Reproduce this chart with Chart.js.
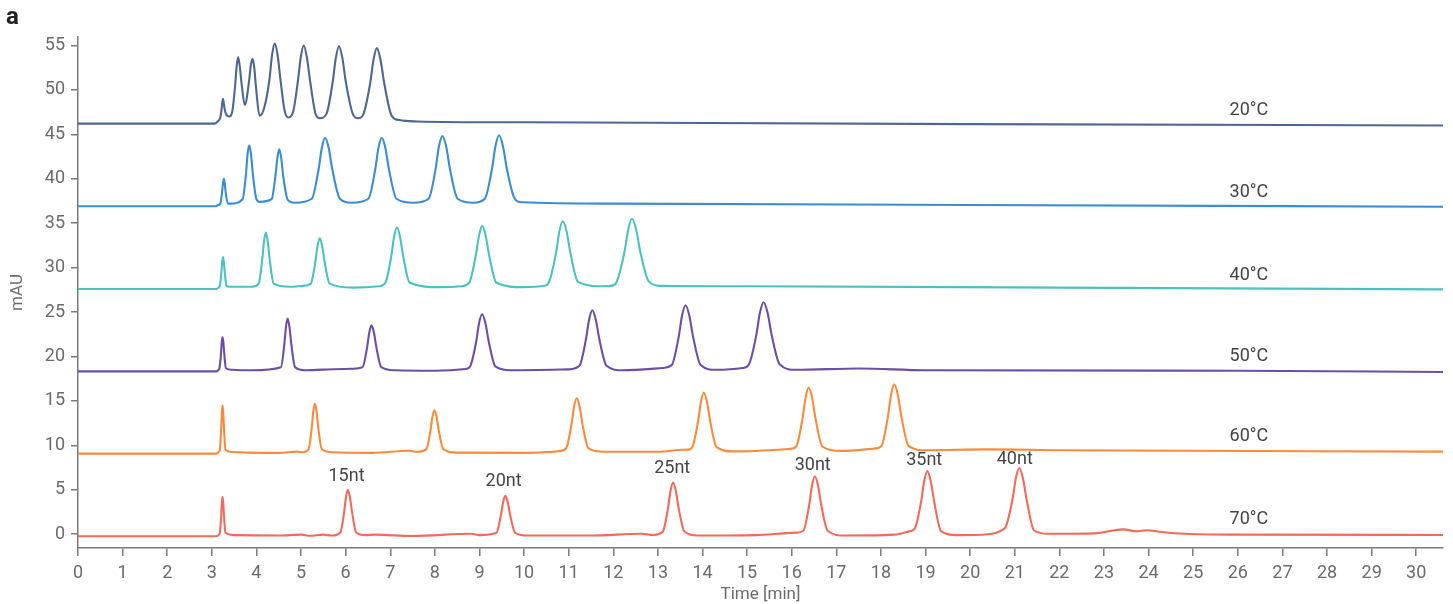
<!DOCTYPE html>
<html><head><meta charset="utf-8">
<script src="https://cdn.jsdelivr.net/npm/chart.js@4.4.0/dist/chart.umd.min.js"></script>
<style>html,body{margin:0;padding:0;background:#fff;}#wrap{width:1453px;height:604px;position:relative;}</style>
</head><body><div id="wrap"><canvas id="c" width="1453" height="604"></canvas></div>
<script>
// ---- tick labels ----
const xTickValues = [0,1,2,3,4,5,6,7,8,9,10,11,12,13,14,15,16,17,18,19,20,21,22,23,24,25,26,27,28,29,30];
const yTickValues = [0,5,10,15,20,25,30,35,40,45,50,55];

// ---- series names / colours ----
const seriesNames = ['20°C','30°C','40°C','50°C','60°C','70°C'];
const seriesColors = ['#4e6792','#3a8dd2','#4cc1c0','#6a4fa8','#fa8b3c','#f26a5b'];

// ---- traces: [time (min), absorbance (mAU)] ----
const trace20 = [[0,46.2],[3.05,46.2],[3.13,46.45],[3.19,46.9],[3.22,47.9],[3.235,48.6],[3.25,49.0],[3.266,48.6],[3.285,47.9],[3.33,47.15],[3.39,47.0],[3.46,47.6],[3.52,50.35],[3.555,52.6],[3.59,53.7],[3.628,52.6],[3.665,50.8],[3.74,48.3],[3.835,51.0],[3.872,52.7],[3.91,53.5],[3.95,52.6],[3.99,50.3],[4.07,47.1],[4.17,47.9],[4.29,51.1],[4.35,53.9],[4.41,55.2],[4.475,53.9],[4.54,51.1],[4.63,47.7],[4.71,46.9],[4.82,47.5],[4.93,51.0],[4.995,53.7],[5.06,55.0],[5.13,53.7],[5.203,51.0],[5.32,47.4],[5.42,46.8],[5.57,47.3],[5.71,50.9],[5.78,53.6],[5.85,54.9],[5.926,53.6],[6.004,50.9],[6.16,47.3],[6.28,46.8],[6.40,47.3],[6.55,50.75],[6.625,53.4],[6.70,54.7],[6.781,53.4],[6.865,50.75],[7.03,47.1],[7.2,46.6],[7.6,46.45],[10,46.35],[20,46.15],[30.6,46.0]];

const trace30 = [[0,36.9],[3.08,36.9],[3.14,37.05],[3.19,37.2],[3.23,38.5],[3.25,39.5],[3.27,40.0],[3.29,39.5],[3.31,38.5],[3.36,37.2],[3.42,37.2],[3.69,37.7],[3.765,40.5],[3.80,42.7],[3.84,43.75],[3.88,42.7],[3.92,40.5],[4.00,37.7],[4.07,37.4],[4.34,37.7],[4.425,40.3],[4.47,42.35],[4.51,43.3],[4.555,42.35],[4.60,40.3],[4.70,37.65],[4.86,37.3],[5.24,37.75],[5.39,40.95],[5.465,43.45],[5.54,44.6],[5.62,43.45],[5.705,40.95],[5.87,37.75],[6.13,37.3],[6.51,37.75],[6.66,40.95],[6.735,43.45],[6.81,44.6],[6.89,43.45],[6.975,40.95],[7.14,37.75],[7.51,37.3],[7.86,37.75],[8.015,41.05],[8.09,43.6],[8.17,44.8],[8.255,43.6],[8.34,41.05],[8.51,37.75],[8.86,37.3],[9.12,37.75],[9.28,41.1],[9.36,43.7],[9.44,44.9],[9.525,43.7],[9.615,41.1],[9.79,37.75],[9.95,37.35],[12,37.2],[20,37.05],[30.6,36.85]];

const trace40 = [[0,27.6],[3.1,27.6],[3.16,27.8],[3.18,27.95],[3.215,29.5],[3.232,30.65],[3.25,31.2],[3.269,30.65],[3.289,29.5],[3.33,27.95],[3.40,27.85],[3.9,27.85],[4.05,28.2],[4.13,30.9],[4.17,32.95],[4.21,33.95],[4.253,32.95],[4.298,30.9],[4.386,28.2],[4.75,27.85],[5.05,27.95],[5.22,28.2],[5.32,30.6],[5.37,32.45],[5.42,33.3],[5.474,32.45],[5.53,30.6],[5.64,28.2],[6.17,27.75],[6.75,27.9],[6.89,28.3],[7.02,31.2],[7.085,33.45],[7.15,34.5],[7.22,33.45],[7.293,31.2],[7.436,28.3],[8.11,27.8],[8.6,27.9],[8.77,28.3],[8.915,31.3],[8.99,33.6],[9.06,34.7],[9.138,33.6],[9.22,31.3],[9.38,28.3],[9.98,27.8],[10.45,27.95],[10.56,28.4],[10.715,31.6],[10.79,34.05],[10.87,35.2],[10.954,34.05],[11.04,31.6],[11.21,28.4],[11.77,27.9],[12.0,28.0],[12.08,28.45],[12.25,31.75],[12.335,34.3],[12.42,35.5],[12.512,34.3],[12.607,31.75],[12.794,28.45],[13.05,27.95],[15,27.9],[22,27.75],[30.6,27.55]];

const trace50 = [[0,18.33],[3.1,18.33],[3.16,18.55],[3.17,18.68],[3.205,20.3],[3.222,21.6],[3.24,22.2],[3.259,21.6],[3.279,20.3],[3.317,18.68],[3.45,18.5],[3.9,18.45],[4.55,18.8],[4.625,21.35],[4.662,23.33],[4.70,24.26],[4.74,23.33],[4.783,21.35],[4.865,18.8],[5.1,18.45],[5.5,18.52],[6.15,18.62],[6.38,18.8],[6.48,21.0],[6.53,22.7],[6.58,23.5],[6.634,22.7],[6.69,21.0],[6.80,18.8],[7.1,18.45],[8.0,18.4],[8.69,18.6],[8.79,18.88],[8.925,21.63],[8.99,23.75],[9.06,24.75],[9.133,23.75],[9.21,21.63],[9.357,18.88],[9.7,18.45],[11.0,18.55],[11.24,18.95],[11.385,21.88],[11.457,24.14],[11.53,25.2],[11.608,24.14],[11.69,21.88],[11.85,18.95],[12.2,18.45],[13.1,18.7],[13.31,19.03],[13.465,22.18],[13.542,24.61],[13.62,25.76],[13.704,24.61],[13.79,22.18],[13.96,19.03],[14.3,18.5],[14.9,18.7],[15.04,19.1],[15.205,22.38],[15.287,24.91],[15.37,26.1],[15.459,24.91],[15.552,22.38],[15.733,19.1],[16.1,18.5],[17.5,18.65],[19,18.45],[26,18.4],[30.6,18.25]];

const trace60 = [[0,9.07],[3.1,9.07],[3.16,9.3],[3.18,9.5],[3.21,11.85],[3.225,13.65],[3.24,14.5],[3.256,13.65],[3.273,11.85],[3.306,9.5],[3.45,9.25],[3.8,9.18],[4.5,9.15],[4.92,9.3],[5.02,9.22],[5.17,9.58],[5.24,11.98],[5.275,13.83],[5.31,14.7],[5.348,13.83],[5.387,11.98],[5.464,9.58],[5.7,9.22],[6.6,9.15],[7.42,9.4],[7.6,9.28],[7.81,9.58],[7.90,11.63],[7.945,13.2],[7.99,13.95],[8.039,13.2],[8.089,11.63],[8.188,9.58],[8.5,9.18],[10.0,9.15],[10.7,9.3],[10.94,9.66],[11.06,12.3],[11.12,14.34],[11.18,15.3],[11.245,14.34],[11.312,12.3],[11.444,9.66],[11.8,9.28],[13.0,9.28],[13.57,9.5],[13.68,9.52],[13.77,9.79],[13.90,12.68],[13.965,14.9],[14.03,15.95],[14.10,14.9],[14.173,12.68],[14.316,9.79],[14.7,9.32],[15.96,9.6],[16.10,9.87],[16.24,12.98],[16.31,15.37],[16.38,16.5],[16.456,15.37],[16.534,12.98],[16.688,9.87],[17.1,9.38],[17.82,9.62],[18.01,9.94],[18.155,13.19],[18.227,15.69],[18.30,16.87],[18.378,15.69],[18.46,13.19],[18.62,9.94],[19.0,9.45],[20.4,9.55],[22,9.45],[30.6,9.3]];

const trace70 = [[0,-0.23],[3.1,-0.23],[3.16,-0.05],[3.18,0.16],[3.21,2.05],[3.225,3.51],[3.24,4.2],[3.256,3.51],[3.273,2.05],[3.306,0.16],[3.5,-0.1],[4.5,-0.15],[5.01,-0.05],[5.2,-0.17],[5.49,-0.05],[5.7,-0.15],[5.88,0.2],[5.965,2.45],[6.007,4.18],[6.05,5.0],[6.096,4.18],[6.144,2.45],[6.237,0.2],[6.45,-0.1],[6.65,-0.05],[7.5,-0.2],[8.82,0.05],[9.0,-0.1],[9.38,0.16],[9.48,2.1],[9.53,3.6],[9.58,4.31],[9.634,3.6],[9.69,2.1],[9.80,0.16],[10.1,-0.15],[11.5,-0.15],[12.63,0.05],[12.9,-0.08],[13.11,0.3],[13.225,2.88],[13.282,4.87],[13.34,5.81],[13.402,4.87],[13.467,2.88],[13.593,0.3],[13.9,-0.15],[15.2,-0.1],[15.96,0.15],[16.1,0.18],[16.26,0.39],[16.39,3.26],[16.455,5.48],[16.52,6.52],[16.59,5.48],[16.663,3.26],[16.806,0.39],[17.2,-0.15],[18.3,-0.05],[18.65,0.35],[18.76,0.65],[18.90,3.65],[18.97,6.0],[19.04,7.1],[19.116,6.0],[19.194,3.65],[19.348,0.35],[19.7,-0.1],[20.4,0.0],[20.74,0.55],[20.80,0.85],[20.95,3.93],[21.025,6.33],[21.10,7.46],[21.181,6.33],[21.265,3.93],[21.43,0.45],[21.75,0.05],[22.8,0.1],[23.43,0.55],[23.73,0.32],[23.95,0.45],[24.3,0.25],[24.8,0.05],[26,-0.05],[30.6,-0.08]];

const traces = [trace20, trace30, trace40, trace50, trace60, trace70];

// ---- annotations ----
const tempLabelX = [26.25,26.25,26.25,26.25,26.25,26.25];
const tempLabelY = [47.7,38.5,29.1,20.0,11.0,1.65];
const ntLabels = ['15nt','20nt','25nt','30nt','35nt','40nt'];
const ntLabelX = [6.02,9.54,13.32,16.47,18.97,21.0];
const ntLabelY = [6.52,5.88,7.39,7.68,8.32,8.40];

const AXIS_GREY = '#7a7a7a';
const TICK_GREY = '#6b6b6b';
const TEXT_DARK = '#444444';

Chart.defaults.font.family = 'Roboto, "DejaVu Sans", sans-serif';

const annotatePlugin = {
  id: 'annotate',
  afterDatasetsDraw(chart) {
    const {ctx} = chart;
    const xs = chart.scales.x, ys = chart.scales.y;
    ctx.save();
    ctx.font = '18px Roboto';
    ctx.fillStyle = TEXT_DARK;
    ctx.textAlign = 'center';
    ctx.textBaseline = 'middle';
    seriesNames.forEach((s, i) => {
      ctx.fillText(s, xs.getPixelForValue(tempLabelX[i]), ys.getPixelForValue(tempLabelY[i]));
    });
    ntLabels.forEach((s, i) => {
      ctx.fillText(s, xs.getPixelForValue(ntLabelX[i]), ys.getPixelForValue(ntLabelY[i]));
    });
    ctx.font = 'bold 24px Roboto';
    ctx.fillStyle = '#222';
    ctx.textAlign = 'left';
    ctx.textBaseline = 'alphabetic';
    ctx.fillText('a', 6, 24);
    ctx.restore();
  }
};

new Chart(document.getElementById('c'), {
  type: 'line',
  data: {
    datasets: traces.map((tr, i) => ({
      label: seriesNames[i],
      data: tr,
      borderColor: seriesColors[i],
      borderWidth: 2.1,
      pointRadius: 0,
      fill: false,
      cubicInterpolationMode: 'monotone'
    }))
  },
  options: {
    responsive: false,
    animation: false,
    devicePixelRatio: 1,
    layout: { padding: { top: 37, right: 10, left: 0, bottom: 0 } },
    plugins: { legend: { display: false }, tooltip: { enabled: false } },
    scales: {
      x: {
        type: 'linear',
        min: 0, max: 30.6,
        afterBuildTicks: s => { s.ticks = xTickValues.map(v => ({ value: v })); },
        afterFit: s => { s.height = 56; },
        grid: { drawOnChartArea: false, drawTicks: true, tickLength: 8, color: AXIS_GREY, lineWidth: 1.5 },
        border: { display: true, color: AXIS_GREY, width: 1.5 },
        ticks: { color: TICK_GREY, font: { size: 18 }, padding: 7, autoSkip: false, maxRotation: 0 },
        title: { display: true, text: 'Time [min]', color: TICK_GREY, font: { size: 17, lineHeight: 1 }, padding: { top: 0, bottom: 1 } }
      },
      y: {
        type: 'linear',
        min: -1.55, max: 55.95,
        afterBuildTicks: s => { s.ticks = yTickValues.map(v => ({ value: v })); },
        afterFit: s => { s.width = 78; },
        grid: { drawOnChartArea: false, drawTicks: true, tickLength: 7, color: AXIS_GREY, lineWidth: 1.5 },
        border: { display: true, color: AXIS_GREY, width: 1.5 },
        ticks: { color: TICK_GREY, font: { size: 18 }, padding: 6 },
        title: { display: true, text: 'mAU', color: TICK_GREY, font: { size: 17 }, padding: { top: 8, bottom: 0 } }
      }
    }
  },
  plugins: [annotatePlugin]
});
</script></body></html>
